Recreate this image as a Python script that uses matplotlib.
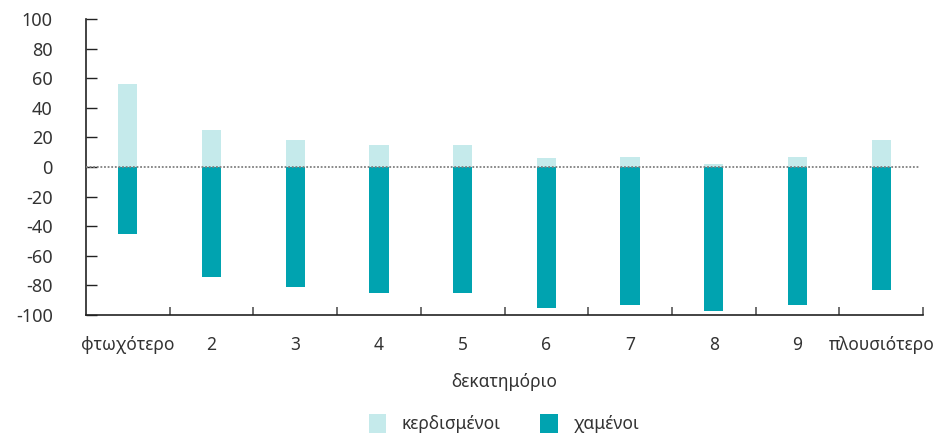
import matplotlib
matplotlib.use("Agg")
import matplotlib.pyplot as plt
from matplotlib.patches import Patch
import numpy as np

plt.rcParams['font.family'] = ['Noto Sans', 'DejaVu Sans']

categories = ["φτωχότερο", "2", "3", "4", "5", "6", "7", "8", "9", "πλουσιότερο"]
gainers = [56, 25, 18, 15, 15, 6, 7, 2, 7, 18]
losers = [-45, -74, -81, -85, -85, -95, -93, -97, -93, -83]
yticks = [100, 80, 60, 40, 20, 0, -20, -40, -60, -80, -100]
series_names = ["κερδισμένοι", "χαμένοι"]

c_gain = "#c5eaeb"
c_loss = "#00a3b0"
text_color = "#333333"

fig = plt.figure(figsize=(9.4, 4.36), dpi=100)
ax = fig.add_axes([0.0915, 0.2775, 0.8905, 0.6789])

x = np.arange(len(categories))
w = 0.23
ax.bar(x, gainers, width=w, color=c_gain, zorder=2)
ax.bar(x, losers, width=w, color=c_loss, zorder=2)

ax.plot([-0.5, 9.45], [0, 0], color="#808080", linestyle=(0, (1, 1)), lw=1.3, zorder=3)

ax.set_xlim(-0.5, 9.5)
ax.set_ylim(-100, 100)
ax.set_yticks(yticks)
ax.set_yticklabels([str(v) for v in yticks], fontsize=13, color=text_color)
ax.tick_params(axis='y', direction='in', length=8, width=1, pad=24, color="#222222")

ax.set_xticks(np.arange(0.5, 10, 1.0))
ax.set_xticklabels([])
ax.set_xticks(x, minor=True)
ax.set_xticklabels(categories, minor=True, fontsize=12.5, color=text_color)
ax.tick_params(axis='x', which='major', direction='in', length=6, width=1.2, color="#555555")
ax.tick_params(axis='x', which='minor', length=0, pad=15)

for s in ["top", "right"]:
    ax.spines[s].set_visible(False)
for s in ["left", "bottom"]:
    ax.spines[s].set_color("#222222")
    ax.spines[s].set_linewidth(1.2)

ax.set_xlabel("δεκατημόριο", fontsize=12.5, color=text_color, labelpad=14)

handles = [Patch(facecolor=c_gain, edgecolor='none'), Patch(facecolor=c_loss, edgecolor='none')]
fig.legend(handles, series_names, loc="center", bbox_to_anchor=(0.536, 0.028), ncol=2,
           frameon=False, fontsize=12.5, handlelength=1.0, handleheight=1.3,
           columnspacing=2.3, handletextpad=0.9, labelcolor=text_color)

fig.savefig("out.png", dpi=100)
